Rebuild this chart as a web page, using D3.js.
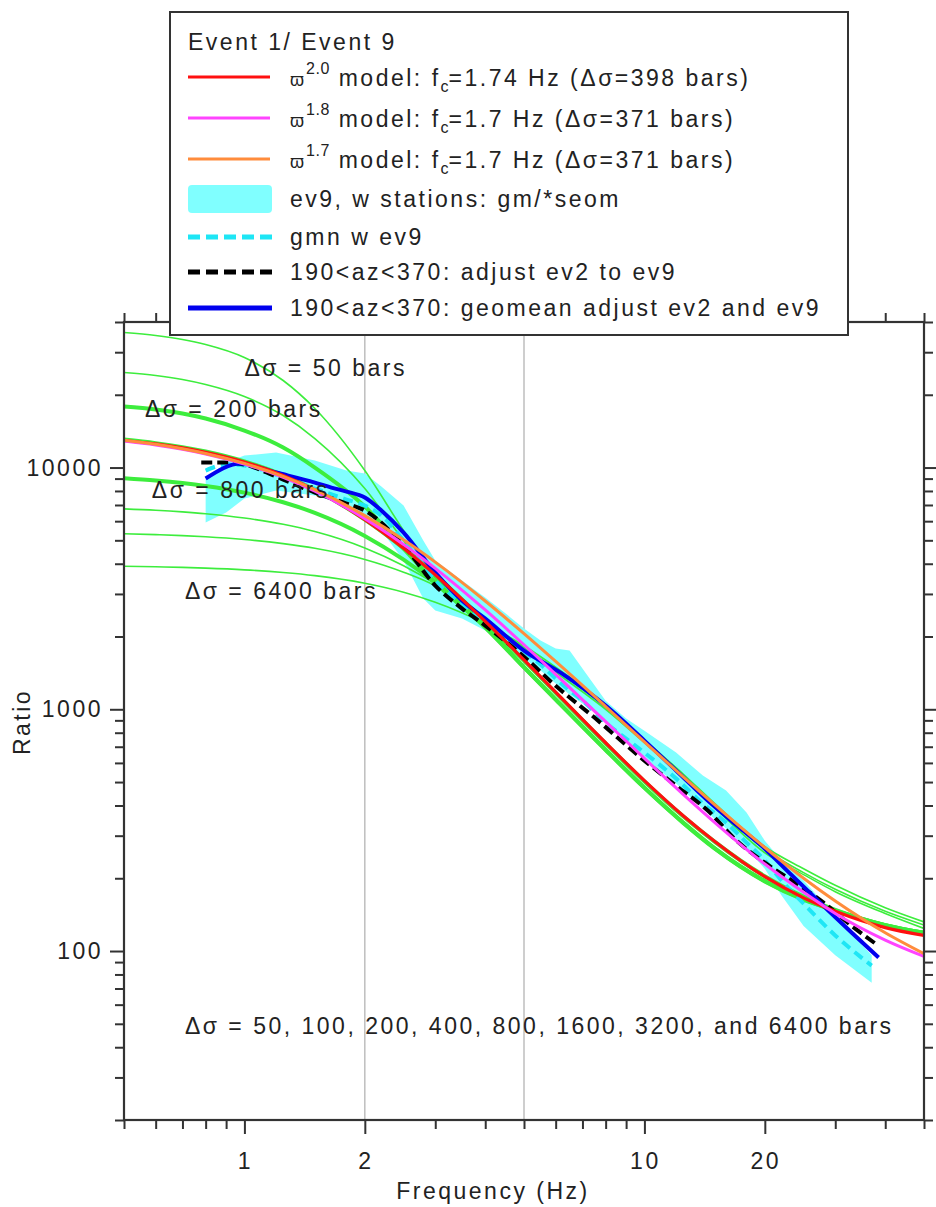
<!DOCTYPE html>
<html>
<head>
<meta charset="utf-8">
<script src="https://cdn.jsdelivr.net/npm/d3@7/dist/d3.min.js"></script>
<style>
  html, body { margin: 0; padding: 0; background: #fff; }
  svg { display: block; }
  text { font-family: "Liberation Sans", Arial, sans-serif; font-size: 23px; letter-spacing: 2.5px; fill: #222; }
</style>
</head>
<body>
<svg id="chart" width="936" height="1207"></svg>
<script>
// ---------------- data ----------------
const freq = [0.5,0.6,0.7,0.8,1,1.25,1.5,2,2.5,3,4,5,6,8,10,12.5,15,20,25,30,40,50];
const omega20 = [12939,12523,12064,11574,10548,9268,8073,6088,4635,3598,2311,1600,1177,727,507,363,284,203,166,146,125,116];
const omega18 = [12883,12407,11902,11386,10344,9103,7979,6148,4805,3829,2575,1849,1395,889,626,445,340,229,175,143,111,95];
const omega17 = [12984,12483,11964,11440,10401,9185,8096,6327,5023,4063,2805,2055,1577,1027,733,525,402,268,200,161,119,97.5];

const g50   = [36200,35170,33860,32280,28520,22910,17540,9718,5486,3550,2160,1480,1090,674,471,338,264,194,163,147,128,119];
const g100  = [24720,24030,23130,22050,19670,16410,13180,8187,4989,3473,2170,1485,1093,676,472,339,265,194,163,147,128,119];
const g200  = [17880,17380,16730,15950,14230,12100,10000,6898,4623,3343,2180,1490,1096,678,473,339,265,194,163,147,128,119];
const g400  = [13050,12620,12150,11650,10600,9300,8090,6090,4630,3590,2300,1590,1170,722,503,361,283,204,168,148,128,119];
const g800  = [9030,8840,8626,8391,7877,7188,6494,5215,4160,3337,2222,1495,1099,680,474,340,266,195,164,147,128,119];
const g1600 = [6745,6657,6554,6440,6180,5822,5433,4647,3923,3300,2330,1760,1420,1000,728,525,392,255,207,176,143,124];
const g3200 = [5320,5276,5227,5171,5038,4845,4635,4169,3692,3243,2300,1800,1460,1020,738,532,400,263,211,180,146,128];
const g6400 = [3907,3887,3863,3836,3774,3679,3571,3321,3049,2773,2259,1831,1493,1040,748,540,407,270,219,187,151,132];
const greenSeries = [
  {v: g50, thick: false}, {v: g100, thick: false}, {v: g200, thick: true}, {v: g400, thick: true},
  {v: g800, thick: true}, {v: g1600, thick: false}, {v: g3200, thick: false}, {v: g6400, thick: false}
];

const bandFreq = [0.8,0.9,1.0,1.2,1.5,1.8,2.0,2.2,2.5,2.8,3.0,3.5,4.0,4.5,5.0,5.5,6.0,6.5,7.0,8.0,9.0,10,12,14,16,18,20,22,25,30,37];
const bandHigh = [9006,10488,11211,11537,10690,9718,9445,8345,6964,4989,4122,3407,2899,2488,2158,1924,1783,1749,1474,1086,915,816,662,532,461,374,286,237,196,140,96];
const bandLow  = [5922,6514,7443,8030,7660,6964,6330,5486,4122,2871,2561,2372,2117,1835,1621,1446,1277,1150,1056,898,742,625,493,388,321,265,219,170,127,96,74];
const gmnEv9   = [9718,10290,10192,9355,8187,7372,6964,6330,4989,3930,3407,2737,2328,1980,1733,1531,1340,1195,1086,881,756,662,517,407,340,281,237,196,157,116,87];

const adjFreq = [0.78,0.9,1.0,1.2,1.5,1.8,2.0,2.5,3.0,3.5,4.0,5.0,6.0,7.5,10,12,14.4,17,20,23,28,33,38.5];
const adjEv2  = [10490,10490,10290,9180,7880,7100,6640,4760,3250,2610,2220,1650,1250,924,613,483,381,286,232,199,159,127,105];

const geoFreq = [0.8,0.98,1.2,1.5,1.65,1.8,2.0,2.2,2.5,3.0,3.5,4,5,6.17,8,10,12,14.4,17.4,20,23,28,33,38.5];
const geoMean = [9006,10388,9535,8667,8265,7955,7514,6640,5383,3678,2817,2372,1749,1418,1036,742,558,419,321,265,211,154,119,94];

const xMajor = [1,2,10,20];
const xMinor = [0.5,0.6,0.7,0.8,0.9,3,4,5,6,7,8,9,30,40,50];
const xLabels = ["1","2","10","20"];
const xGrid = [2,5];
const yMajor = [100,1000,10000];
const yMinor = [20,30,40,50,60,70,80,90,200,300,400,500,600,700,800,900,2000,3000,4000,5000,6000,7000,8000,9000,20000,30000,40000];
const yLabels = ["100","1000","10000"];

const annotations = [
  {t: "Δσ = 50 bars", f: 1.0, v: 25690},
  {t: "Δσ = 200 bars", f: 0.564, v: 17540},
  {t: "Δσ = 800 bars", f: 0.587, v: 8110},
  {t: "Δσ = 6400 bars", f: 0.71, v: 3098},
  {t: "Δσ = 50, 100, 200, 400, 800, 1600, 3200, and 6400 bars", f: 0.71, v: 49.1}
];

// ---------------- layout ----------------
const L = 124, R = 924, T = 322, B = 1120;
const x = d3.scaleLog().domain([0.5, 50]).range([L, R]);
const y = d3.scaleLog().domain([20, 40000]).range([B, T]);

const svg = d3.select("#chart");
svg.append("defs").append("clipPath").attr("id", "plotclip")
  .append("rect").attr("x", L).attr("y", T).attr("width", R - L).attr("height", B - T);

const plot = svg.append("g").attr("clip-path", "url(#plotclip)");

// grid lines
plot.selectAll("line.grid").data(xGrid).enter().append("line")
  .attr("x1", d => x(d)).attr("x2", d => x(d)).attr("y1", T).attr("y2", B)
  .attr("stroke", "#b4b4b4").attr("stroke-width", 1.3);

const lineGen = (fs) => d3.line().x((d, i) => x(fs[i])).y(d => y(d)).curve(d3.curveMonotoneX);

// band
const area = d3.area()
  .x((d, i) => x(bandFreq[i]))
  .y0((d, i) => y(bandLow[i]))
  .y1((d, i) => y(bandHigh[i]));
plot.append("path").datum(bandHigh).attr("d", area).attr("fill", "#80ffff").attr("stroke", "none");

// green curves
greenSeries.forEach(s => {
  plot.append("path").datum(s.v).attr("d", lineGen(freq))
    .attr("fill", "none").attr("stroke", "#3ded3d")
    .attr("stroke-width", s.thick ? 4 : 1.6);
});

// cyan dashed
plot.append("path").datum(gmnEv9).attr("d", lineGen(bandFreq))
  .attr("fill", "none").attr("stroke", "#1ee6f5").attr("stroke-width", 4).attr("stroke-dasharray", "10,6");
// black dashed
plot.append("path").datum(adjEv2).attr("d", lineGen(adjFreq))
  .attr("fill", "none").attr("stroke", "#000").attr("stroke-width", 4).attr("stroke-dasharray", "11,5");
// blue
plot.append("path").datum(geoMean).attr("d", lineGen(geoFreq))
  .attr("fill", "none").attr("stroke", "#0000ee").attr("stroke-width", 4);
// models
plot.append("path").datum(omega20).attr("d", lineGen(freq))
  .attr("fill", "none").attr("stroke", "#ff1010").attr("stroke-width", 3.2);
plot.append("path").datum(omega18).attr("d", lineGen(freq))
  .attr("fill", "none").attr("stroke", "#ff44ff").attr("stroke-width", 3);
plot.append("path").datum(omega17).attr("d", lineGen(freq))
  .attr("fill", "none").attr("stroke", "#ff8c3c").attr("stroke-width", 3);

// annotations
svg.selectAll("text.ann").data(annotations).enter().append("text")
  .attr("x", d => x(d.f)).attr("y", d => y(d.v) + 8).text(d => d.t);

// axes
const axisG = svg.append("g");
function drawAxis(gen, tf) {
  const g = axisG.append("g").attr("transform", tf).call(gen);
  g.select(".domain").remove();
  g.selectAll(".tick line").attr("stroke", "#333").attr("stroke-width", 2);
  g.selectAll(".tick text").remove();
}
drawAxis(d3.axisBottom(x).tickValues(xMajor).tickSize(14).tickSizeOuter(0), `translate(0,${B})`);
drawAxis(d3.axisBottom(x).tickValues(xMinor).tickSize(9).tickSizeOuter(0), `translate(0,${B})`);
drawAxis(d3.axisTop(x).tickValues(xMajor).tickSize(14).tickSizeOuter(0), `translate(0,${T})`);
drawAxis(d3.axisTop(x).tickValues(xMinor).tickSize(9).tickSizeOuter(0), `translate(0,${T})`);
drawAxis(d3.axisLeft(y).tickValues(yMajor).tickSize(14).tickSizeOuter(0), `translate(${L},0)`);
drawAxis(d3.axisLeft(y).tickValues(yMinor).tickSize(9).tickSizeOuter(0), `translate(${L},0)`);
drawAxis(d3.axisRight(y).tickValues(yMajor).tickSize(14).tickSizeOuter(0), `translate(${R},0)`);
drawAxis(d3.axisRight(y).tickValues(yMinor).tickSize(9).tickSizeOuter(0), `translate(${R},0)`);

svg.append("rect").attr("x", L).attr("y", T).attr("width", R - L).attr("height", B - T)
  .attr("fill", "none").attr("stroke", "#333").attr("stroke-width", 2.2);

// tick labels
svg.selectAll("text.xl").data(xMajor).enter().append("text")
  .attr("x", d => x(d) + 1).attr("y", 1169).attr("text-anchor", "middle").text((d, i) => xLabels[i]);
svg.selectAll("text.yl").data(yMajor).enter().append("text")
  .attr("x", 103).attr("y", d => y(d) + 8).attr("text-anchor", "end").text((d, i) => yLabels[i]);

// axis titles
svg.append("text").attr("x", 493).attr("y", 1199).attr("text-anchor", "middle").text("Frequency (Hz)");
svg.append("text").attr("transform", "translate(30,722) rotate(-90)").attr("text-anchor", "middle").text("Ratio");

// legend
const lg = svg.append("g");
lg.append("rect").attr("x", 170).attr("y", 12).attr("width", 678).attr("height", 323)
  .attr("fill", "#fff").attr("stroke", "#333").attr("stroke-width", 2);
lg.append("text").attr("x", 188).attr("y", 50).text("Event 1/ Event 9");

const modelRows = [
  {c: "#ff1010", sup: "2.0", rest: "=1.74 Hz (Δσ=398 bars)", cy: 77},
  {c: "#ff44ff", sup: "1.8", rest: "=1.7 Hz (Δσ=371 bars)", cy: 118},
  {c: "#ff8c3c", sup: "1.7", rest: "=1.7 Hz (Δσ=371 bars)", cy: 159}
];
modelRows.forEach(r => {
  lg.append("line").attr("x1", 188).attr("x2", 270).attr("y1", r.cy).attr("y2", r.cy)
    .attr("stroke", r.c).attr("stroke-width", 3.2);
  const t = lg.append("text").attr("x", 290).attr("y", r.cy + 9);
  t.append("tspan").attr("font-size", "18px").style("letter-spacing", "0px").text("ϖ");
  t.append("tspan").attr("font-size", "16px").attr("dy", -12).attr("dx", 2).style("letter-spacing", "0.5px").text(r.sup);
  t.append("tspan").attr("dy", 12).text(" model: f");
  t.append("tspan").attr("font-size", "16px").attr("dy", 6).style("letter-spacing", "0px").text("c");
  t.append("tspan").attr("dy", -6).text(r.rest);
});

lg.append("rect").attr("x", 188).attr("y", 185).attr("width", 84).attr("height", 28).attr("rx", 4)
  .attr("fill", "#80ffff");
lg.append("text").attr("x", 290).attr("y", 207).text("ev9, w stations: gm/*seom");

lg.append("line").attr("x1", 188).attr("x2", 272).attr("y1", 237).attr("y2", 237)
  .attr("stroke", "#1ee6f5").attr("stroke-width", 5).attr("stroke-dasharray", "12,6");
lg.append("text").attr("x", 290).attr("y", 245).text("gmn w ev9");

lg.append("line").attr("x1", 188).attr("x2", 272).attr("y1", 272).attr("y2", 272)
  .attr("stroke", "#000").attr("stroke-width", 5).attr("stroke-dasharray", "12,6");
lg.append("text").attr("x", 290).attr("y", 280).text("190<az<370: adjust ev2 to ev9");

lg.append("line").attr("x1", 188).attr("x2", 272).attr("y1", 308).attr("y2", 308)
  .attr("stroke", "#0000ee").attr("stroke-width", 5);
lg.append("text").attr("x", 290).attr("y", 316).text("190<az<370: geomean adjust ev2 and ev9");
</script>
</body>
</html>
